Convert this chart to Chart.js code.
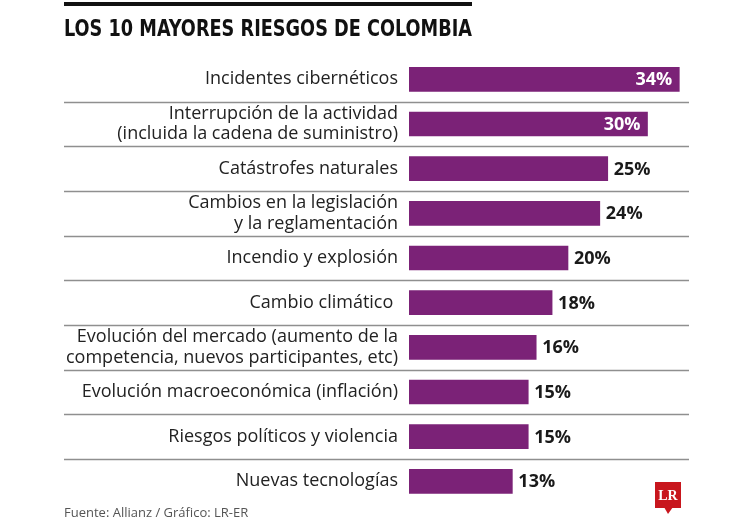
<!DOCTYPE html>
<html>
<head>
<meta charset="utf-8">
<script src="https://cdn.jsdelivr.net/npm/chart.js@4"></script>
<style>
  html, body { margin: 0; padding: 0; background: #fff; }
  #wrap { width: 750px; height: 525px; }
</style>
</head>
<body>
<div id="wrap"><canvas id="riesgos" width="750" height="525"></canvas></div>
<script>
// datos
const riesgos = [
  "Incidentes cibernéticos",
  ["Interrupción de la actividad", "(incluida la cadena de suministro)"],
  "Catástrofes naturales",
  ["Cambios en la legislación", "y la reglamentación"],
  "Incendio y explosión",
  "Cambio climático ",
  ["Evolución del mercado (aumento de la", "competencia, nuevos participantes, etc)"],
  "Evolución macroeconómica (inflación)",
  "Riesgos políticos y violencia",
  "Nuevas tecnologías"
];
const porcentajes = [34, 30, 25, 24, 20, 18, 16, 15, 15, 13];

const titulo = "LOS 10 MAYORES RIESGOS DE COLOMBIA";
const fuente = "Fuente: Allianz / Gráfico: LR-ER";

const morado = "#7b2277";
const umbralDentro = 30; // valores que van escritos dentro de la barra

const decoracion = {
  id: 'decoracion',
  afterDraw(chart) {
    const ctx = chart.ctx;
    const y = chart.scales.y;
    const x = chart.scales.x;
    ctx.save();

    // titulo (fuente condensada: se comprime a lo ancho)
    ctx.font = 'bold 23px "Liberation Sans Narrow", "DejaVu Sans Condensed", sans-serif';
    ctx.fillStyle = '#111';
    ctx.textBaseline = 'alphabetic';
    ctx.textAlign = 'left';
    const anchoTitulo = 408;
    const w = ctx.measureText(titulo).width;
    ctx.save();
    ctx.translate(64, 36);
    ctx.scale(anchoTitulo / w, 1);
    ctx.fillText(titulo, 0, 0);
    ctx.restore();
    ctx.fillRect(64, 2, anchoTitulo, 4);

    // lineas separadoras
    ctx.strokeStyle = '#8f8f8f';
    ctx.lineWidth = 1.3;
    for (let i = 0; i < porcentajes.length - 1; i++) {
      const yy = Math.round((y.getPixelForValue(i) + y.getPixelForValue(i + 1)) / 2) + 0.5;
      ctx.beginPath();
      ctx.moveTo(64, yy);
      ctx.lineTo(689, yy);
      ctx.stroke();
    }

    // valores
    ctx.font = 'bold 18px "Open Sans", sans-serif';
    ctx.textBaseline = 'middle';
    porcentajes.forEach((v, i) => {
      const px = x.getPixelForValue(v);
      const py = y.getPixelForValue(i) + 1;
      if (v >= umbralDentro) {
        ctx.fillStyle = '#fff';
        ctx.textAlign = 'right';
        ctx.fillText(v + '%', px - 7, py);
      } else {
        ctx.fillStyle = '#1a1a1a';
        ctx.textAlign = 'left';
        ctx.fillText(v + '%', px + 6, py);
      }
    });

    // fuente
    ctx.font = '13px "Open Sans", sans-serif';
    ctx.fillStyle = '#555';
    ctx.textAlign = 'left';
    ctx.textBaseline = 'alphabetic';
    ctx.fillText(fuente, 64, 517);

    // logo LR
    ctx.fillStyle = '#c8161d';
    ctx.fillRect(655, 482, 26, 26);
    ctx.beginPath();
    ctx.moveTo(664, 507);
    ctx.lineTo(668, 514);
    ctx.lineTo(673, 507);
    ctx.closePath();
    ctx.fill();
    ctx.fillStyle = '#fff';
    ctx.font = 'bold 14px "Liberation Serif", "DejaVu Serif", serif';
    ctx.textAlign = 'center';
    ctx.textBaseline = 'middle';
    ctx.fillText('LR', 668, 496);

    ctx.restore();
  }
};

new Chart(document.getElementById('riesgos'), {
  type: 'bar',
  data: {
    labels: riesgos,
    datasets: [{
      data: porcentajes,
      backgroundColor: morado,
      borderWidth: 0,
      barThickness: 24
    }]
  },
  options: {
    indexAxis: 'y',
    responsive: false,
    animation: false,
    devicePixelRatio: 1,
    layout: { padding: { left: 0, right: 23, top: 57, bottom: 20 } },
    plugins: {
      legend: { display: false },
      tooltip: { enabled: false }
    },
    scales: {
      x: {
        display: false,
        min: 0,
        max: 40
      },
      y: {
        grid: { display: false, drawTicks: false },
        border: { display: false },
        ticks: {
          padding: 11,
          color: '#222',
          font: { family: '"Open Sans", sans-serif', size: 18, lineHeight: 1.15 }
        },
        afterFit(scale) { scale.width = 409; }
      }
    }
  },
  plugins: [decoracion]
});
</script>
</body>
</html>
